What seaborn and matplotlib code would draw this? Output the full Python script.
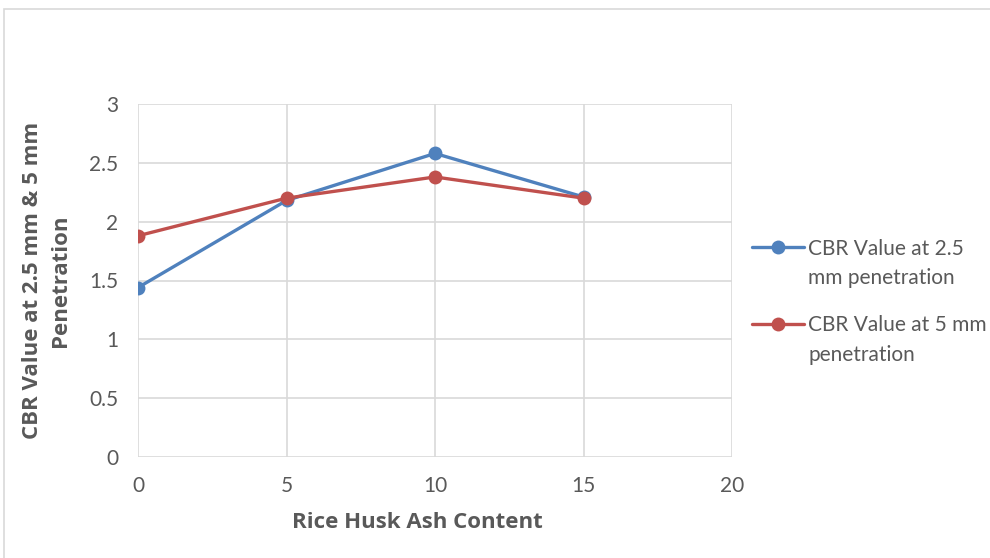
import numpy as np
import pandas as pd
import seaborn as sns
import matplotlib.pyplot as plt
from matplotlib.patches import Rectangle
from matplotlib.lines import Line2D
from matplotlib.legend_handler import HandlerLine2D

# data
ash_content = [0, 5, 10, 15]
cbr_25mm = [1.44, 2.18, 2.58, 2.21]
cbr_5mm = [1.88, 2.20, 2.38, 2.20]
series_names = ["CBR Value at 2.5\nmm penetration", "CBR Value at 5 mm\npenetration"]
series_colors = ["#4F81BD", "#C0504D"]

df = pd.DataFrame({
    "ash": ash_content * 2,
    "cbr": cbr_25mm + cbr_5mm,
    "serie": [series_names[0]] * 4 + [series_names[1]] * 4,
})


# legend marker next to the first line of the label, like Excel does
class FirstLineHandler(HandlerLine2D):
    def create_artists(self, legend, orig_handle, xdescent, ydescent, width, height, fontsize, trans):
        return super().create_artists(legend, orig_handle, xdescent, ydescent - 1.6 * fontsize,
                                      width, height, fontsize, trans)


sns.set_style("white")
plt.rcParams["font.family"] = ["Lato", "DejaVu Sans"]

fig = plt.figure(figsize=(9.9, 5.58), dpi=100)
ax = fig.add_axes([138 / 990, 1 - 457 / 558, 594 / 990, 353 / 558])

for name, col in zip(series_names, series_colors):
    sub = df[df["serie"] == name]
    sns.lineplot(data=sub, x="ash", y="cbr", ax=ax, color=col, marker="o",
                 markersize=10, markeredgewidth=0, linewidth=2.4, label=name)

ax.set_xlim(0, 20)
ax.set_ylim(0, 3)
ax.set_xticks([0, 5, 10, 15, 20])
ax.set_yticks([0, 0.5, 1, 1.5, 2, 2.5, 3])
ax.set_yticklabels(["0", "0.5", "1", "1.5", "2", "2.5", "3"])
ax.grid(True, color="#D9D9D9", linewidth=1.2)
ax.set_axisbelow(True)
for s in ax.spines.values():
    s.set_visible(False)
ax.tick_params(axis="both", length=0, labelsize=15, colors="#595959", pad=14)

# Lato has no bold face here, so the bold titles use Open Sans
ax.set_xlabel("Rice Husk Ash Content", fontsize=16, fontweight="bold", color="#595959",
              family=["Open Sans", "DejaVu Sans"])
ax.xaxis.set_label_coords(0.471, -0.155)
ax.set_ylabel("CBR Value at 2.5 mm & 5 mm\nPenetration", fontsize=16, fontweight="bold",
              color="#595959", labelpad=13, linespacing=1.45, family=["Open Sans", "DejaVu Sans"])

leg = ax.legend(loc="center left", bbox_to_anchor=(1.034, 0.44), frameon=False,
                fontsize=15, handlelength=2.5, handletextpad=0.2, labelspacing=1.3,
                borderpad=0, borderaxespad=0, handler_map={Line2D: FirstLineHandler()})
for t in leg.get_texts():
    t.set_color("#595959")
    t.set_linespacing(1.6)

# outer chart frame
fig.patches.append(Rectangle((4 / 990, -0.1), 1.2, 1 - 9 / 558 + 0.1, transform=fig.transFigure,
                             fill=False, edgecolor="#D9D9D9", linewidth=1.2))

fig.savefig("out.png", dpi=100)
